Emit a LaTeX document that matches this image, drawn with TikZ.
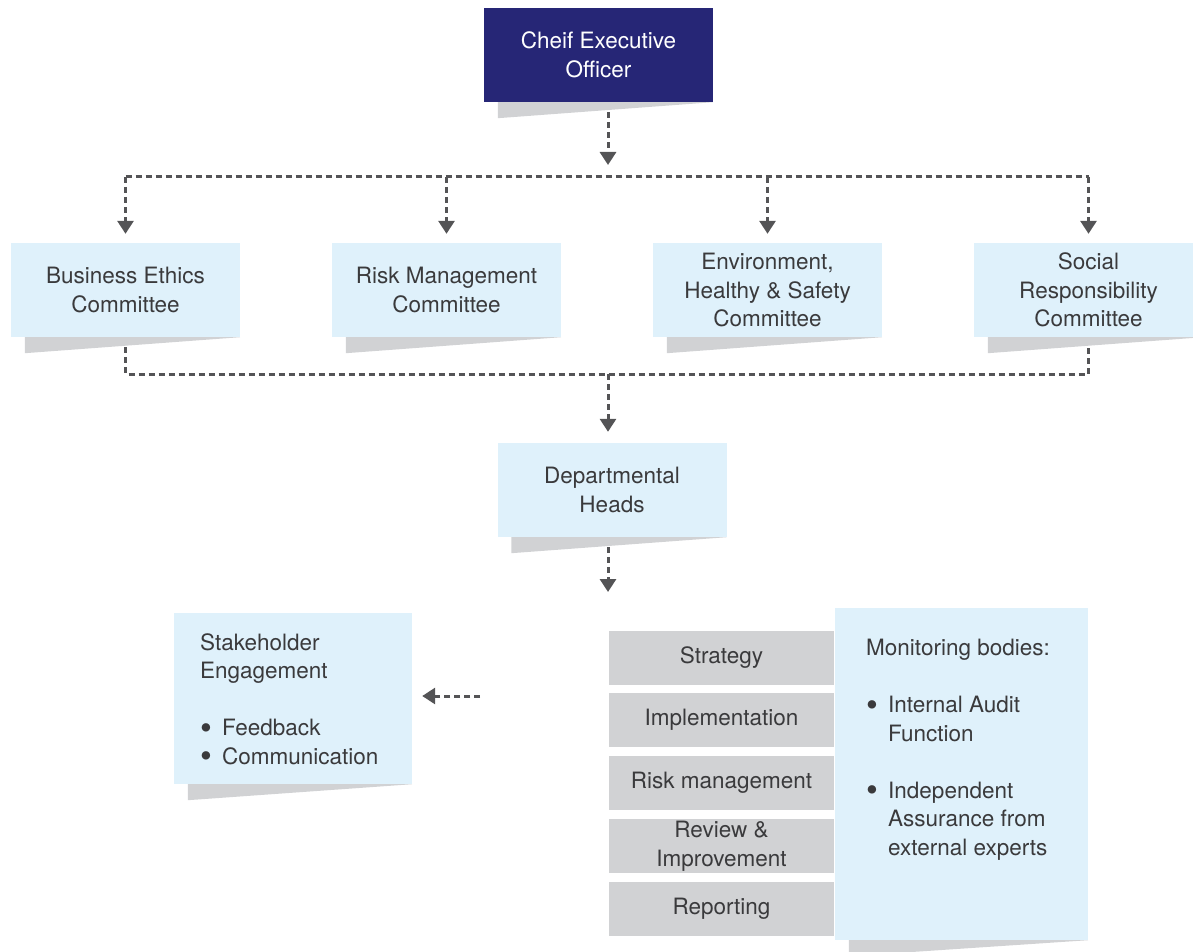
\documentclass[tikz,border=0pt]{standalone}
\usepackage{fontspec}
\setmainfont{TeX Gyre Heros}
\usetikzlibrary{arrows.meta,backgrounds}

\definecolor{ceoblue}{HTML}{262676}
\definecolor{paleblue}{HTML}{DFF1FB}
\definecolor{stagegray}{HTML}{D1D2D4}
\definecolor{shadowgray}{HTML}{D1D2D4}
\definecolor{linegray}{HTML}{545456}
\definecolor{textgray}{HTML}{3A3A3C}

\tikzset{
    basebox/.style={minimum width=229pt,minimum height=94pt,inner sep=0pt,align=center,
        font=\fontsize{22.5}{28.5}\selectfont,text=textgray},
    ceobox/.style={basebox,fill=ceoblue,text=white},
    combox/.style={basebox,fill=paleblue},
    stagebox/.style={basebox,minimum width=225pt,minimum height=54pt,fill=stagegray},
    listtext/.style={inner sep=0pt,align=left,font=\fontsize{22.5}{28.5}\selectfont,text=textgray},
    bus/.style={linegray,line width=3pt,dash pattern=on 6pt off 4pt},
    link/.style={bus,-{Triangle[width=16pt,length=13pt]}},
}

\newcommand{\dropshadow}[1]{%
    \fill[shadowgray] ([xshift=14pt]#1.south west) -- ([xshift=14pt,yshift=-16pt]#1.south west)
        -- (#1.south east) -- cycle;}
\newcommand{\dotitem}{\makebox[22pt][l]{\smash{\raisebox{-0.17em}{\scalebox{1.5}{\textbullet}}}}}

\begin{document}
\begin{tikzpicture}[x=1pt,y=-1pt]
    \useasboundingbox (0,0) rectangle (1193,952);

    \node [ceobox] (ceo) at (598.5,55) {Cheif Executive\\Officer};

    \node [combox] (ethics) at (125.5,290) {Business Ethics\\Committee};
    \node [combox] (risk) at (446.5,290) {Risk Management\\Committee};
    \node [combox] (ehs) at (767.5,290) {Environment,\\Healthy \& Safety\\Committee};
    \node [combox] (social) at (1088.5,290) {Social\\Responsibility\\Committee};

    \node [combox] (heads) at (612,490) {Departmental\\Heads};

    \node [combox,minimum width=238pt,minimum height=171pt] (stake) at (293,698.5) {};
    \node [listtext,anchor=north west] (staketext) at (200,633)
        {Stakeholder\\Engagement\\[28.5pt]\dotitem Feedback\\\dotitem Communication};

    \node [combox,minimum width=253pt,minimum height=332pt] (monitor) at (961.5,774) {};
    \node [listtext,anchor=north west] (monitortext) at (866,639)
        {Monitoring bodies:\\[28.5pt]\dotitem Internal Audit\\\hspace*{22pt}Function\\[28.5pt]%
         \dotitem Independent\\\hspace*{22pt}Assurance from\\\hspace*{22pt}external experts};

    \node [stagebox] (strategy) at (721.5,658) {Strategy};
    \node [stagebox] (implement) at (721.5,720) {Implementation};
    \node [stagebox] (riskmgmt) at (721.5,783) {Risk management};
    \node [stagebox] (review) at (721.5,846) {Review \&\\Improvement};
    \node [stagebox] (report) at (721.5,909) {Reporting};

    \coordinate (topmid) at (608,177);
    \coordinate (lowmid) at (608,374);
    \coordinate (headsend) at (608,592);
    \coordinate (stakestart) at (480,696);

    \begin{pgfonlayer}{background}
        \draw [link,shorten >=12pt] (ceo.south -| topmid) -- (topmid);
        \draw [bus] (ethics.north |- topmid) -- (social.north |- topmid);
        \foreach \c in {ethics,risk,ehs,social}
            \draw [link,shorten >=9pt] (\c.north |- topmid) -- (\c.north);

        \draw [bus] (ethics.south) -- (ethics.south |- lowmid) -- (social.south |- lowmid) -- (social.south);
        \draw [link,shorten >=11pt] (lowmid) -- (lowmid |- heads.north);

        \draw [link] (heads.south -| headsend) -- (headsend);
        \draw [link,shorten >=10pt] (stakestart) -- (stakestart -| stake.east);

        \foreach \c in {ceo,ethics,risk,ehs,social,heads,stake,monitor}
            {\dropshadow{\c}}
    \end{pgfonlayer}
\end{tikzpicture}
\end{document}
